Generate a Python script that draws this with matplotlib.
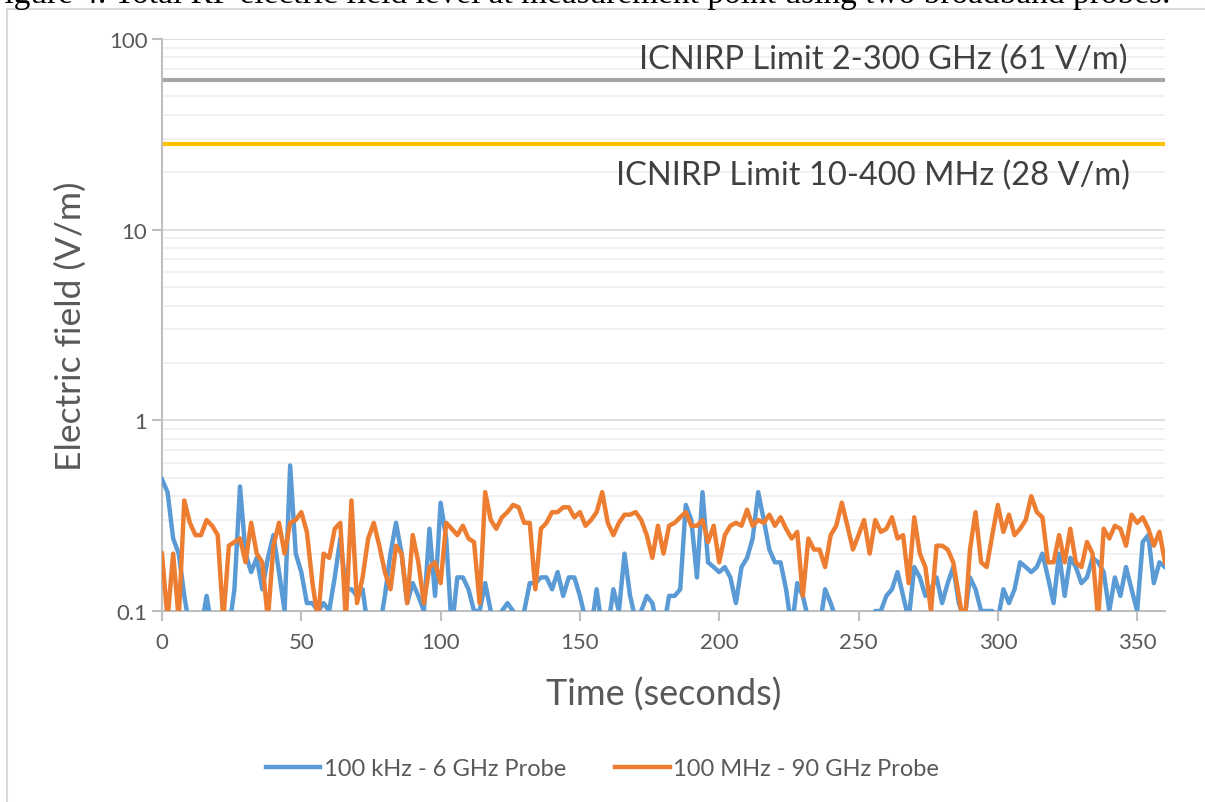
import matplotlib.pyplot as plt
import numpy as np
from matplotlib.ticker import FixedLocator, NullFormatter, LogLocator
from matplotlib.patches import Rectangle

# time axis, one reading every 2 s
time_s = np.arange(0, 362, 2)

probe_6ghz = [
    0.49, 0.42, 0.24, 0.2, 0.12, 0.08, 0.08, 0.08, 0.12, 0.08,
    0.08, 0.1, 0.08, 0.13, 0.45, 0.2, 0.16, 0.19, 0.13, 0.19,
    0.25, 0.16, 0.1, 0.58, 0.2, 0.16, 0.11, 0.11, 0.1, 0.11,
    0.1, 0.15, 0.24, 0.13, 0.13, 0.12, 0.13, 0.08, 0.08, 0.08,
    0.12, 0.2, 0.29, 0.2, 0.11, 0.14, 0.12, 0.1, 0.27, 0.12,
    0.37, 0.24, 0.08, 0.15, 0.15, 0.13, 0.1, 0.1, 0.14, 0.1,
    0.08, 0.1, 0.11, 0.1, 0.08, 0.1, 0.14, 0.14, 0.15, 0.15,
    0.13, 0.16, 0.12, 0.15, 0.15, 0.12, 0.09, 0.08, 0.13, 0.08,
    0.08, 0.13, 0.1, 0.2, 0.12, 0.09, 0.1, 0.12, 0.11, 0.08,
    0.08, 0.12, 0.12, 0.13, 0.36, 0.3, 0.15, 0.42, 0.18, 0.17,
    0.16, 0.17, 0.15, 0.11, 0.17, 0.19, 0.24, 0.42, 0.3, 0.21,
    0.18, 0.18, 0.13, 0.08, 0.14, 0.12, 0.09, 0.08, 0.08, 0.13,
    0.11, 0.09, 0.08, 0.08, 0.08, 0.08, 0.08, 0.08, 0.1, 0.1,
    0.12, 0.13, 0.16, 0.12, 0.09, 0.17, 0.15, 0.12, 0.13, 0.15,
    0.11, 0.14, 0.17, 0.11, 0.09, 0.15, 0.13, 0.1, 0.1, 0.1,
    0.09, 0.13, 0.11, 0.13, 0.18, 0.17, 0.16, 0.17, 0.2, 0.15,
    0.11, 0.2, 0.12, 0.19, 0.17, 0.14, 0.15, 0.19, 0.18, 0.16,
    0.1, 0.15, 0.12, 0.17, 0.13, 0.1, 0.23, 0.25, 0.14, 0.18,
    0.17,
]

probe_90ghz = [
    0.2, 0.09, 0.2, 0.09, 0.38, 0.29, 0.25, 0.25, 0.3, 0.28,
    0.25, 0.09, 0.22, 0.23, 0.24, 0.18, 0.29, 0.2, 0.18, 0.09,
    0.22, 0.29, 0.2, 0.29, 0.3, 0.33, 0.26, 0.14, 0.09, 0.2,
    0.19, 0.27, 0.29, 0.09, 0.38, 0.11, 0.15, 0.24, 0.29, 0.22,
    0.16, 0.13, 0.22, 0.2, 0.11, 0.25, 0.18, 0.11, 0.17, 0.18,
    0.14, 0.29, 0.27, 0.25, 0.28, 0.24, 0.23, 0.11, 0.42, 0.3,
    0.27, 0.31, 0.33, 0.36, 0.35, 0.29, 0.29, 0.13, 0.27, 0.29,
    0.33, 0.33, 0.35, 0.35, 0.31, 0.33, 0.28, 0.3, 0.33, 0.42,
    0.29, 0.25, 0.29, 0.32, 0.32, 0.33, 0.3, 0.25, 0.19, 0.28,
    0.2, 0.28, 0.29, 0.31, 0.33, 0.28, 0.28, 0.3, 0.23, 0.28,
    0.18, 0.25, 0.28, 0.29, 0.28, 0.34, 0.28, 0.3, 0.29, 0.32,
    0.28, 0.31, 0.27, 0.24, 0.26, 0.12, 0.24, 0.21, 0.21, 0.17,
    0.25, 0.28, 0.37, 0.28, 0.21, 0.25, 0.3, 0.2, 0.3, 0.26,
    0.27, 0.31, 0.24, 0.25, 0.14, 0.31, 0.2, 0.17, 0.1, 0.22,
    0.22, 0.21, 0.18, 0.12, 0.08, 0.21, 0.33, 0.18, 0.17, 0.25,
    0.36, 0.26, 0.32, 0.25, 0.27, 0.3, 0.4, 0.33, 0.31, 0.18,
    0.18, 0.25, 0.18, 0.27, 0.18, 0.17, 0.23, 0.2, 0.09, 0.27,
    0.24, 0.28, 0.27, 0.22, 0.32, 0.29, 0.31, 0.27, 0.22, 0.26,
    0.18,
]

limit_ghz = 61
limit_mhz = 28

blue = "#5B9BD5"
orange = "#ED7D31"
grey_txt = "#595959"

plt.rcParams["font.family"] = ["Lato", "DejaVu Sans"]

fig = plt.figure(figsize=(12.05, 8.03), dpi=100)
ax = fig.add_axes([162 / 1205, 1 - 612 / 803, 1003 / 1205, 572 / 803])

# chart frame and the caption line cut off at the top of the page
fig.patches.append(Rectangle((7 / 1205, -0.05), 1.1, 1 - 10 / 803 + 0.05,
                             transform=fig.transFigure, fill=False,
                             edgecolor="#d9d9d9", linewidth=1.5))
fig.text(-14 / 1205, 1 - 3 / 803,
         "Figure 4. Total RF electric field level at measurement point using two broadband probes.",
         family="Liberation Serif", fontsize=24, va="baseline", ha="left", color="black")

ax.set_yscale("log")
ax.set_ylim(0.1, 100)
ax.set_xlim(0, 360)

ax.axhline(limit_ghz, color="#A5A5A5", linewidth=3, zorder=2)
ax.axhline(limit_mhz, color="#FFC000", linewidth=3, zorder=2)
ax.plot(time_s, probe_6ghz, color=blue, linewidth=3.2, label="100 kHz - 6 GHz Probe", zorder=3)
ax.plot(time_s, probe_90ghz, color=orange, linewidth=3.2, label="100 MHz - 90 GHz Probe", zorder=3)

ax.text(346.4, 78.6, "ICNIRP Limit 2-300 GHz (61 V/m)",
        ha="right", va="center", fontsize=23.5, color="#404040")
ax.text(347.5, 19.4, "ICNIRP Limit 10-400 MHz (28 V/m)",
        ha="right", va="center", fontsize=23.5, color="#404040")

ax.yaxis.set_major_locator(FixedLocator([0.1, 1, 10, 100]))
ax.set_yticklabels(["0.1", "1", "10", "100"])
ax.yaxis.set_minor_locator(LogLocator(base=10, subs=np.arange(2, 10)))
ax.yaxis.set_minor_formatter(NullFormatter())
ax.set_xticks(np.arange(0, 351, 50))

ax.grid(axis="y", which="major", color="#d9d9d9", linewidth=1.2)
ax.grid(axis="y", which="minor", color="#efefef", linewidth=1.2)
ax.set_axisbelow(True)

for s in ["top", "right"]:
    ax.spines[s].set_visible(False)
for s in ["left", "bottom"]:
    ax.spines[s].set_color("#bfbfbf")
    ax.spines[s].set_linewidth(1.5)
ax.tick_params(axis="both", which="major", colors="#bfbfbf", labelcolor=grey_txt,
               labelsize=16, length=7, width=1.5)
ax.tick_params(axis="x", which="major", pad=8)
ax.tick_params(axis="y", which="minor", length=0)

ax.set_ylabel("Electric field (V/m)", fontsize=25.5, color=grey_txt, labelpad=16)
ax.set_xlabel("Time (seconds)", fontsize=26, color=grey_txt, labelpad=18)

fig.legend(loc="center", bbox_to_anchor=(0.5, 1 - 770 / 803), ncol=2, frameon=False,
           fontsize=17, labelcolor=grey_txt, handlelength=2.3, columnspacing=2.1,
           handletextpad=0.15)

plt.savefig("out.png", dpi=100)
